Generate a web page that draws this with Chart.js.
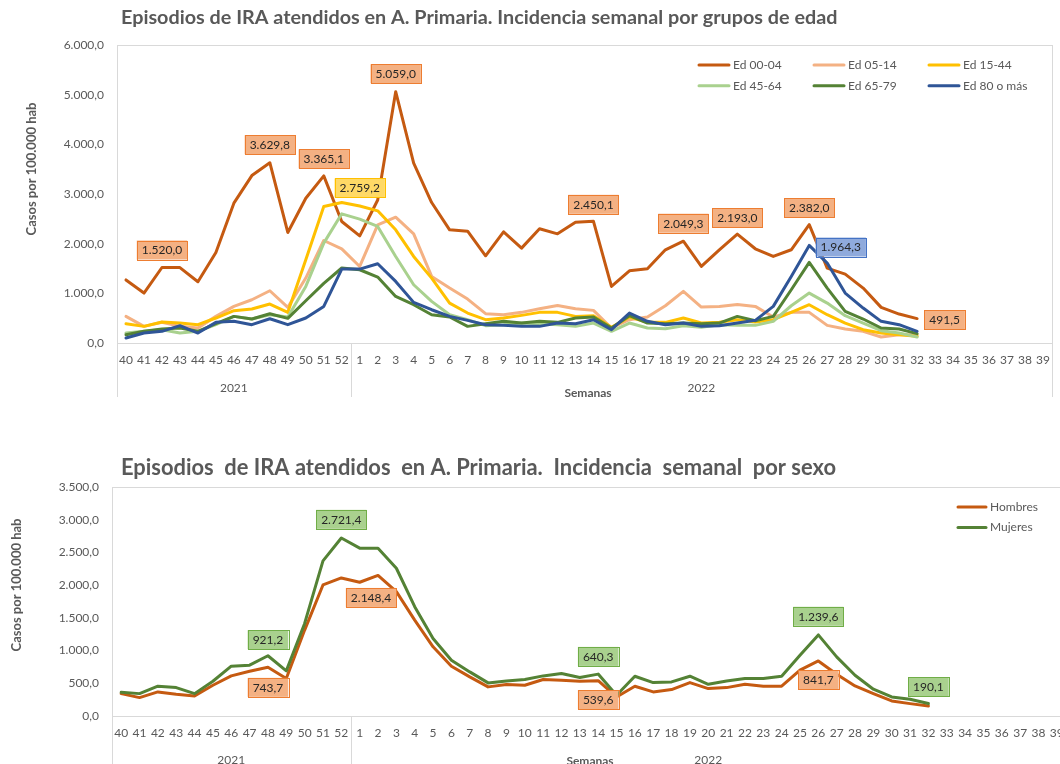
<!DOCTYPE html>
<html lang="es">
<head>
<meta charset="utf-8">
<title>Episodios de IRA atendidos en A. Primaria</title>
<script src="https://cdn.jsdelivr.net/npm/chart.js@4.4.1/dist/chart.umd.min.js"></script>
<style>
  html, body { margin: 0; padding: 0; background: #fff; }
  body { width: 1060px; height: 764px; overflow: hidden; position: relative; }
  .panel { position: absolute; left: 0; width: 1060px; overflow: hidden; }
  canvas { display: block; }
</style>
</head>
<body>
<div class="panel" style="top:0;height:410px"><canvas id="edadChart" width="1060" height="410"></canvas></div>
<div class="panel" style="top:440px;height:324px"><canvas id="sexoChart" width="1080" height="324"></canvas></div>
<script>
// semanas epidemiológicas (temporada 2021-2022)
const semanas = ['40', '41', '42', '43', '44', '45', '46', '47', '48', '49', '50', '51', '52',
  '1', '2', '3', '4', '5', '6', '7', '8', '9', '10', '11', '12', '13', '14', '15', '16', '17', '18', '19', '20',
  '21', '22', '23', '24', '25', '26', '27', '28', '29', '30', '31', '32', '33', '34', '35', '36', '37', '38', '39'];
const anios = ['2021', '2022'];
const semanasPorAnio = [13, 39];

// incidencia por grupos de edad (casos por 100.000 hab)
const ed0004 = [1270, 1005, 1520.0, 1518, 1233, 1823, 2815, 3371, 3629.8, 2225, 2915, 3365.1, 2446,
  2158, 2880, 5059.0, 3620, 2828, 2279, 2252, 1756, 2239, 1910, 2299, 2198, 2433, 2450.1, 1139, 1454, 1495,
  1877, 2049.3, 1541, 1877, 2193.0, 1897, 1743, 1877, 2382.0, 1508, 1387, 1106, 717, 583, 491.5];
const ed0514 = [536, 335, 416, 335, 300, 536, 737, 871, 1052, 717, 1307, 2064, 1896,
  1541, 2379, 2533, 2198, 1340, 1106, 885, 590, 570, 617, 690, 757, 690, 657, 302, 469, 523,
  750, 1039, 724, 737, 777, 737, 523, 617, 617, 355, 281, 235, 121, 168, 168];
const ed1544 = [389, 335, 422, 402, 369, 503, 650, 684, 784, 617, 1676, 2748, 2830,
  2759.2, 2661, 2279, 1743, 1307, 804, 603, 469, 503, 556, 617, 617, 536, 550, 315, 523, 416,
  416, 503, 402, 416, 469, 422, 469, 617, 771, 570, 402, 268, 201, 168, 134];
const ed4564 = [201, 235, 268, 201, 235, 369, 536, 483, 570, 523, 1139, 2011, 2601,
  2493, 2346, 1743, 1173, 838, 570, 469, 349, 369, 402, 389, 369, 335, 402, 235, 402, 302,
  288, 349, 315, 369, 355, 355, 436, 750, 1005, 804, 550, 402, 248, 201, 121];
const ed6579 = [168, 235, 281, 302, 235, 389, 536, 483, 590, 496, 850, 1200, 1510,
  1475, 1327, 938, 771, 570, 523, 335, 389, 436, 402, 436, 416, 503, 523, 302, 550, 402,
  389, 402, 389, 402, 536, 449, 536, 1072, 1622, 1106, 637, 483, 302, 281, 188];
const ed80 = [101, 201, 235, 349, 201, 416, 436, 369, 489, 369, 503, 737, 1488,
  1488, 1595, 1240, 818, 670, 536, 456, 369, 355, 335, 335, 402, 389, 469, 268, 603, 436,
  369, 402, 335, 349, 402, 456, 737, 1340, 1964.3, 1609, 1005, 704, 436, 369, 235];
const ticksEdad = [0, 1000, 2000, 3000, 4000, 5000, 6000];

// incidencia por sexo
const hombres = [342, 281, 368, 332, 307, 470, 613, 685, 743.7, 572, 1313, 2003, 2110,
  2044, 2148.4, 1900, 1466, 1058, 761, 598, 445, 480, 470, 557, 547, 531, 539.6, 291, 455, 368,
  404, 511, 419, 434, 485, 455, 455, 700, 841.7, 639, 460, 342, 230, 189, 153];
const mujeres = [363, 342, 455, 434, 342, 531, 761, 777, 921.2, 690, 1415, 2371, 2721.4,
  2565, 2565, 2258, 1671, 1185, 853, 674, 506, 536, 557, 613, 649, 588, 640.3, 317, 608, 511,
  521, 608, 485, 536, 572, 572, 608, 930, 1239.6, 904, 623, 409, 291, 255, 190.1];
const ticksSexo = [0, 500, 1000, 1500, 2000, 2500, 3000, 3500];

Chart.defaults.font.family = 'Lato, "Open Sans", sans-serif';
Chart.defaults.color = '#595959';

// 1234.5 -> "1.234,5"
function formato(v) {
  const partes = Number(v).toFixed(1).split('.');
  return partes[0].replace(/\B(?=(\d{3})+(?!\d))/g, '.') + ',' + partes[1];
}

function completar(arr) {
  return arr.concat(new Array(semanas.length - arr.length).fill(null));
}

function serie(label, data, color, orden) {
  return {
    label: label,
    data: completar(data),
    borderColor: color,
    backgroundColor: color,
    borderWidth: 3,
    pointRadius: 0,
    tension: 0,
    borderJoinStyle: 'round',
    borderCapStyle: 'round',
    order: orden
  };
}

function ejeX(alto) {
  return {
    type: 'category',
    offset: true,
    afterFit: s => { s.height = alto; },
    grid: { display: false, drawTicks: false },
    border: { display: false },
    ticks: { padding: 10, autoSkip: false, maxRotation: 0, font: { size: 12 } }
  };
}

function ejeY(ticks, ancho) {
  return {
    min: ticks[0],
    max: ticks[ticks.length - 1],
    afterBuildTicks: s => { s.ticks = ticks.map(v => ({ value: v })); },
    afterFit: s => { s.width = ancho; },
    grid: { display: false, drawTicks: false },
    border: { display: false },
    ticks: { padding: 13, font: { size: 12 }, callback: v => formato(v) }
  };
}

// marco, años bajo el eje, títulos, leyenda y etiquetas de datos
const decorado = {
  id: 'decorado',
  beforeDatasetsDraw(chart, args, o) {
    const ctx = chart.ctx;
    const a = chart.chartArea;
    const x = chart.scales.x;
    ctx.save();
    ctx.strokeStyle = '#D9D9D9';
    ctx.lineWidth = 1;
    ctx.strokeRect(Math.round(a.left) + 0.5, Math.round(a.top) + 0.5,
      Math.round(a.right - a.left), Math.round(a.bottom - a.top));

    const fondo = a.bottom + o.grupos.largo;
    ctx.beginPath();
    ctx.moveTo(Math.round(a.left) + 0.5, a.bottom);
    ctx.lineTo(Math.round(a.left) + 0.5, fondo);
    ctx.font = '12px Lato, sans-serif';
    ctx.fillStyle = '#595959';
    ctx.textAlign = 'center';
    ctx.textBaseline = 'middle';
    let inicio = 0;
    anios.forEach((anio, k) => {
      const fin = inicio + semanasPorAnio[k];
      const xi = inicio === 0 ? a.left : (x.getPixelForValue(inicio - 1) + x.getPixelForValue(inicio)) / 2;
      const xf = fin >= semanas.length ? a.right : (x.getPixelForValue(fin - 1) + x.getPixelForValue(fin)) / 2;
      ctx.moveTo(Math.round(xf) + 0.5, a.bottom);
      ctx.lineTo(Math.round(xf) + 0.5, fondo);
      ctx.fillText(anio, (xi + xf) / 2, a.bottom + o.grupos.y);
      inicio = fin;
    });
    ctx.stroke();

    ctx.font = 'bold 12px Lato, sans-serif';
    ctx.fillText('Semanas', o.semanas.x, a.bottom + o.semanas.y);
    ctx.restore();
  },
  afterDatasetsDraw(chart, args, o) {
    const ctx = chart.ctx;
    ctx.save();
    ctx.font = '12px Lato, sans-serif';
    ctx.textAlign = 'center';
    ctx.textBaseline = 'middle';
    o.etiquetas.forEach(e => {
      const p = chart.getDatasetMeta(e.serie).data[e.punto];
      const texto = formato(chart.data.datasets[e.serie].data[e.punto]);
      const w = ctx.measureText(texto).width + 10;
      const h = 19;
      const cx = p.x + (e.dx || 0);
      const cy = p.y + e.dy;
      ctx.fillStyle = e.fondo;
      ctx.fillRect(cx - w / 2, cy - h / 2, w, h);
      ctx.strokeStyle = e.borde;
      ctx.lineWidth = 1;
      ctx.strokeRect(Math.round(cx - w / 2) + 0.5, Math.round(cy - h / 2) + 0.5, Math.round(w), h);
      ctx.fillStyle = '#262626';
      ctx.fillText(texto, cx, cy + 0.5);
    });
    ctx.restore();
  },
  afterDraw(chart, args, o) {
    const ctx = chart.ctx;
    ctx.save();
    ctx.fillStyle = '#595959';
    ctx.textBaseline = 'middle';
    ctx.textAlign = 'left';
    ctx.font = 'bold ' + o.titulo.size + 'px Lato, sans-serif';
    ctx.fillText(o.titulo.text, o.titulo.x, o.titulo.y);

    // título del eje Y
    ctx.save();
    ctx.translate(o.tituloY.x, o.tituloY.y);
    ctx.rotate(-Math.PI / 2);
    ctx.textAlign = 'center';
    ctx.font = 'bold 13px Lato, sans-serif';
    ctx.fillText('Casos por 100.000 hab', 0, 0);
    ctx.restore();

    // leyenda
    const l = o.leyenda;
    ctx.font = '12px Lato, sans-serif';
    ctx.lineWidth = 3;
    ctx.lineCap = 'round';
    chart.data.datasets.forEach((ds, i) => {
      const lx = l.x + (i % l.cols) * l.dx;
      const ly = l.y + Math.floor(i / l.cols) * l.dy;
      ctx.strokeStyle = ds.borderColor;
      ctx.beginPath();
      ctx.moveTo(lx + 1, ly);
      ctx.lineTo(lx + l.largo - 1, ly);
      ctx.stroke();
      ctx.fillStyle = '#595959';
      ctx.fillText(ds.label, lx + l.largo + 3, ly);
    });
    ctx.restore();
  }
};

const naranja = { fondo: '#F4B183', borde: '#ED7D31' };
const amarillo = { fondo: '#FFD966', borde: '#FFC000' };
const azul = { fondo: '#8FAADC', borde: '#4472C4' };
const verde = { fondo: '#A9D18E', borde: '#70AD47' };

new Chart(document.getElementById('edadChart'), {
  type: 'line',
  data: {
    labels: semanas,
    datasets: [
      serie('Ed 00-04', ed0004, '#C55A11', 6),
      serie('Ed 05-14', ed0514, '#F4B183', 5),
      serie('Ed 15-44', ed1544, '#FFC000', 4),
      serie('Ed 45-64', ed4564, '#A9D18E', 3),
      serie('Ed 65-79', ed6579, '#548235', 2),
      serie('Ed 80 o más', ed80, '#2F5597', 1)
    ]
  },
  options: {
    responsive: false,
    animation: false,
    events: [],
    layout: { padding: { top: 45, right: 7, left: 0, bottom: 0 } },
    scales: { x: ejeX(67), y: ejeY(ticksEdad, 117) },
    plugins: {
      legend: { display: false },
      tooltip: { enabled: false },
      decorado: {
        titulo: { text: 'Episodios de IRA atendidos en A. Primaria. Incidencia semanal por grupos de edad', x: 121, y: 18, size: 19.8 },
        tituloY: { x: 32, y: 169 },
        semanas: { x: 588, y: 50 },
        grupos: { largo: 54, y: 45 },
        leyenda: { x: 698, y: 65, dx: 115, dy: 20.7, cols: 3, largo: 32 },
        etiquetas: [
          { serie: 0, punto: 2, dy: -17.5, ...naranja },
          { serie: 0, punto: 8, dy: -18, ...naranja },
          { serie: 0, punto: 11, dy: -17, ...naranja },
          { serie: 2, punto: 13, dy: -18, ...amarillo },
          { serie: 0, punto: 15, dy: -18, ...naranja },
          { serie: 0, punto: 26, dy: -17, ...naranja },
          { serie: 0, punto: 31, dy: -18, ...naranja },
          { serie: 0, punto: 34, dy: -16.5, ...naranja },
          { serie: 0, punto: 38, dy: -17, ...naranja },
          { serie: 5, punto: 38, dx: 31.5, dy: 1.6, ...azul },
          { serie: 0, punto: 44, dx: 27.5, dy: 1, ...naranja }
        ]
      }
    }
  },
  plugins: [decorado]
});

new Chart(document.getElementById('sexoChart'), {
  type: 'line',
  data: {
    labels: semanas,
    datasets: [
      serie('Hombres', hombres, '#C55A11', 2),
      serie('Mujeres', mujeres, '#548235', 1)
    ]
  },
  options: {
    responsive: false,
    animation: false,
    events: [],
    layout: { padding: { top: 47, right: 14, left: 0, bottom: 0 } },
    scales: { x: ejeX(48), y: ejeY(ticksSexo, 112) },
    plugins: {
      legend: { display: false },
      tooltip: { enabled: false },
      decorado: {
        titulo: { text: 'Episodios  de IRA atendidos  en A. Primaria.  Incidencia  semanal  por sexo', x: 121, y: 28, size: 21.9 },
        tituloY: { x: 17, y: 145 },
        semanas: { x: 590, y: 45 },
        grupos: { largo: 60, y: 44 },
        leyenda: { x: 957, y: 67, dx: 0, dy: 20.6, cols: 1, largo: 30 },
        etiquetas: [
          { serie: 1, punto: 12, dy: -18.6, ...verde },
          { serie: 1, punto: 8, dy: -16, ...verde },
          { serie: 0, punto: 8, dy: 20, ...naranja },
          { serie: 0, punto: 14, dx: -7, dy: 22, ...naranja },
          { serie: 1, punto: 26, dy: -17.7, ...verde },
          { serie: 0, punto: 26, dy: 19, ...naranja },
          { serie: 1, punto: 38, dy: -18.6, ...verde },
          { serie: 0, punto: 38, dy: 19, ...naranja },
          { serie: 1, punto: 44, dy: -17, ...verde }
        ]
      }
    }
  },
  plugins: [decorado]
});
</script>
</body>
</html>
